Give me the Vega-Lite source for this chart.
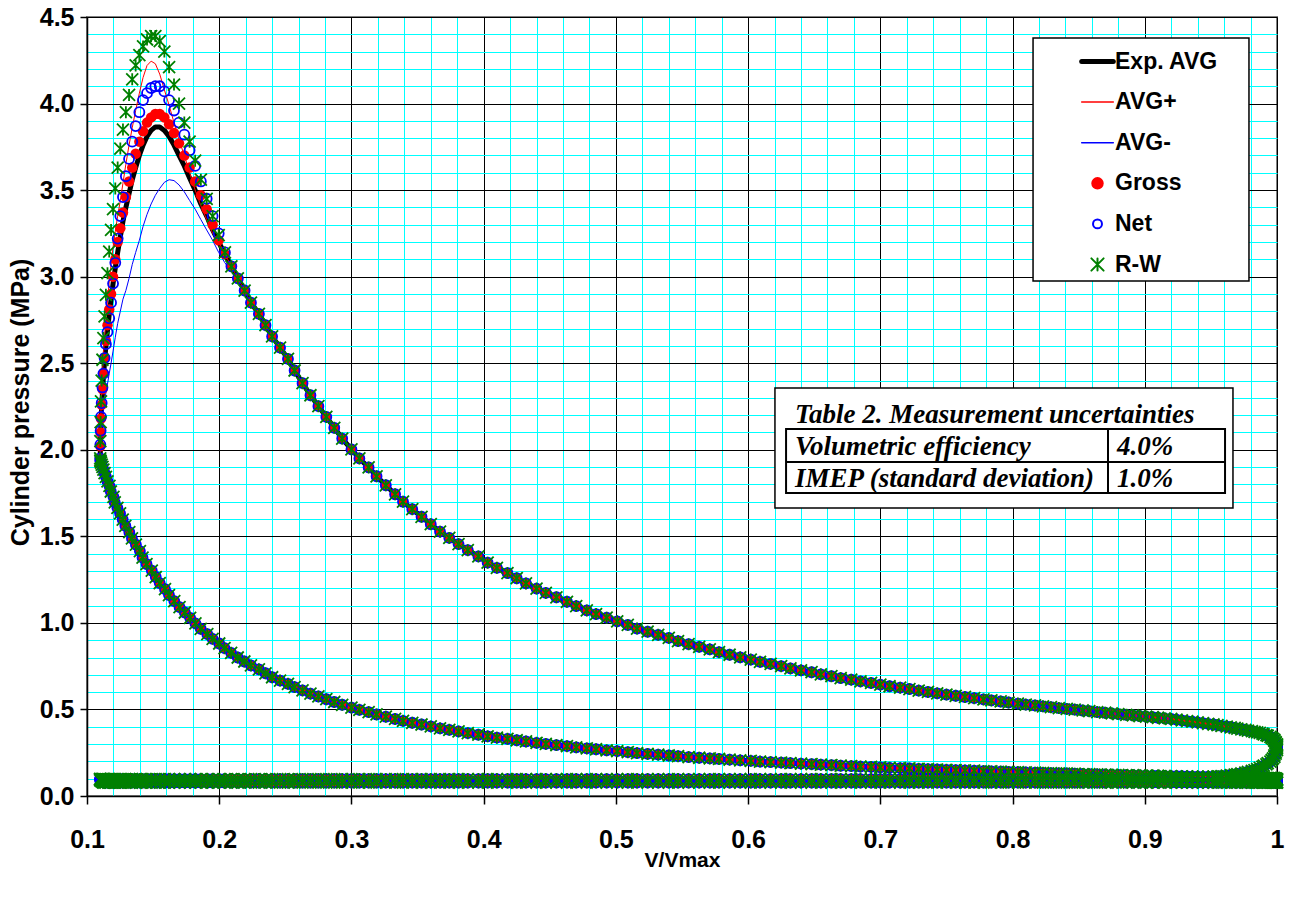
{
"$schema":"https://vega.github.io/schema/vega-lite/v6.json",
"width":1190,"height":779,
"autosize":{"type":"none"},
"padding":{"left":87,"top":17,"right":16,"bottom":102},
"background":"white",
"config":{"view":{"stroke":"#808080","strokeWidth":2}},
"datasets":{"cyc":[
{"t":0,"x":0.11,"a":1.95,"hp":1.95,"hm":1.95,"g":1.95,"n":1.95,"r":1.95},
{"t":1,"x":0.1101,"a":2.02,"hp":2.04,"hm":1.99,"g":2.02,"n":2.03,"r":2.05},
{"t":2,"x":0.1103,"a":2.09,"hp":2.14,"hm":2.03,"g":2.1,"n":2.11,"r":2.16},
{"t":3,"x":0.1106,"a":2.17,"hp":2.24,"hm":2.08,"g":2.18,"n":2.19,"r":2.28},
{"t":4,"x":0.1111,"a":2.25,"hp":2.34,"hm":2.13,"g":2.26,"n":2.27,"r":2.4},
{"t":5,"x":0.1117,"a":2.33,"hp":2.44,"hm":2.18,"g":2.35,"n":2.36,"r":2.52},
{"t":6,"x":0.1124,"a":2.42,"hp":2.55,"hm":2.23,"g":2.44,"n":2.44,"r":2.645},
{"t":7,"x":0.1133,"a":2.51,"hp":2.65,"hm":2.28,"g":2.53,"n":2.53,"r":2.77},
{"t":8,"x":0.1143,"a":2.6,"hp":2.76,"hm":2.33,"g":2.63,"n":2.61,"r":2.895},
{"t":9,"x":0.1155,"a":2.69,"hp":2.86,"hm":2.38,"g":2.72,"n":2.68,"r":3.02},
{"t":10,"x":0.1168,"a":2.78,"hp":2.97,"hm":2.44,"g":2.81,"n":2.76,"r":3.145},
{"t":11,"x":0.1182,"a":2.87,"hp":3.07,"hm":2.5,"g":2.9,"n":2.85,"r":3.27},
{"t":12,"x":0.1197,"a":2.96,"hp":3.17,"hm":2.57,"g":3.0,"n":2.96,"r":3.39},
{"t":13,"x":0.1214,"a":3.05,"hp":3.26,"hm":2.65,"g":3.1,"n":3.08,"r":3.51},
{"t":14,"x":0.1232,"a":3.14,"hp":3.35,"hm":2.73,"g":3.2,"n":3.22,"r":3.63},
{"t":15,"x":0.1252,"a":3.23,"hp":3.44,"hm":2.8,"g":3.28,"n":3.35,"r":3.74},
{"t":16,"x":0.1272,"a":3.32,"hp":3.54,"hm":2.87,"g":3.37,"n":3.46,"r":3.85},
{"t":17,"x":0.1294,"a":3.4,"hp":3.65,"hm":2.92,"g":3.46,"n":3.58,"r":3.95},
{"t":18,"x":0.1318,"a":3.48,"hp":3.76,"hm":2.99,"g":3.55,"n":3.68,"r":4.05},
{"t":19,"x":0.1342,"a":3.56,"hp":3.86,"hm":3.07,"g":3.63,"n":3.78,"r":4.14},
{"t":20,"x":0.1368,"a":3.63,"hp":3.96,"hm":3.14,"g":3.71,"n":3.87,"r":4.22},
{"t":21,"x":0.1396,"a":3.7,"hp":4.06,"hm":3.21,"g":3.78,"n":3.95,"r":4.28},
{"t":22,"x":0.1424,"a":3.76,"hp":4.15,"hm":3.29,"g":3.84,"n":4.02,"r":4.33},
{"t":23,"x":0.1454,"a":3.81,"hp":4.22,"hm":3.36,"g":3.89,"n":4.06,"r":4.37},
{"t":24,"x":0.1485,"a":3.845,"hp":4.245,"hm":3.42,"g":3.92,"n":4.09,"r":4.39},
{"t":25,"x":0.1517,"a":3.865,"hp":4.23,"hm":3.47,"g":3.94,"n":4.1,"r":4.39},
{"t":26,"x":0.155,"a":3.865,"hp":4.17,"hm":3.51,"g":3.94,"n":4.1,"r":4.36},
{"t":27,"x":0.1585,"a":3.845,"hp":4.08,"hm":3.545,"g":3.92,"n":4.07,"r":4.3},
{"t":28,"x":0.1621,"a":3.81,"hp":3.99,"hm":3.56,"g":3.88,"n":4.02,"r":4.21},
{"t":29,"x":0.1658,"a":3.76,"hp":3.89,"hm":3.555,"g":3.83,"n":3.96,"r":4.11},
{"t":30,"x":0.1696,"a":3.7,"hp":3.79,"hm":3.53,"g":3.77,"n":3.89,"r":4.0},
{"t":31,"x":0.1736,"a":3.64,"hp":3.7,"hm":3.49,"g":3.7,"n":3.82,"r":3.89},
{"t":32,"x":0.1776,"a":3.57,"hp":3.6,"hm":3.44,"g":3.63,"n":3.73,"r":3.78},
{"t":33,"x":0.1818,"a":3.5,"hp":3.5,"hm":3.39,"g":3.55,"n":3.64,"r":3.67},
{"t":34,"x":0.1861,"a":3.42,"hp":3.41,"hm":3.33,"g":3.47,"n":3.55,"r":3.56},
{"t":35,"x":0.1905,"a":3.35,"hp":3.33,"hm":3.27,"g":3.39,"n":3.45,"r":3.45},
{"t":36,"x":0.195,"a":3.27,"hp":3.25,"hm":3.21,"g":3.3,"n":3.35,"r":3.35},
{"t":37,"x":0.1996,"a":3.2,"hp":3.2,"hm":3.14,"g":3.21,"n":3.25,"r":3.24},
{"t":38,"x":0.2043,"a":3.13,"hp":3.13,"hm":3.08,"g":3.13,"n":3.14,"r":3.14},
{"t":39,"x":0.2092,"a":3.06,"hp":3.06,"hm":3.03,"g":3.06,"n":3.06,"r":3.06},
{"t":40,"x":0.2141,"a":2.99,"hp":2.99,"hm":2.97,"g":2.99,"n":2.99,"r":2.99},
{"t":41,"x":0.2192,"a":2.92,"hp":2.92,"hm":2.91,"g":2.92,"n":2.92,"r":2.92},
{"t":42,"x":0.224,"p":2.85},{"t":43,"x":0.23,"p":2.785},{"t":44,"x":0.235,"p":2.72},{"t":45,"x":0.24,"p":2.655},{"t":46,"x":0.246,"p":2.59},
{"t":47,"x":0.252,"p":2.525},{"t":48,"x":0.257,"p":2.458},{"t":49,"x":0.263,"p":2.385},{"t":50,"x":0.269,"p":2.315},{"t":51,"x":0.275,"p":2.252},
{"t":52,"x":0.281,"p":2.19},{"t":53,"x":0.287,"p":2.127},{"t":54,"x":0.293,"p":2.065},{"t":55,"x":0.3,"p":2.002},{"t":56,"x":0.306,"p":1.95},
{"t":57,"x":0.313,"p":1.898},{"t":58,"x":0.319,"p":1.847},{"t":59,"x":0.326,"p":1.795},{"t":60,"x":0.333,"p":1.743},{"t":61,"x":0.339,"p":1.7},
{"t":62,"x":0.346,"p":1.657},{"t":63,"x":0.353,"p":1.613},{"t":64,"x":0.36,"p":1.57},{"t":65,"x":0.367,"p":1.527},{"t":66,"x":0.374,"p":1.491},
{"t":67,"x":0.381,"p":1.455},{"t":68,"x":0.388,"p":1.42},{"t":69,"x":0.396,"p":1.384},{"t":70,"x":0.403,"p":1.348},{"t":71,"x":0.41,"p":1.318},
{"t":72,"x":0.418,"p":1.288},{"t":73,"x":0.425,"p":1.258},{"t":74,"x":0.432,"p":1.228},{"t":75,"x":0.44,"p":1.198},{"t":76,"x":0.447,"p":1.173},
{"t":77,"x":0.455,"p":1.148},{"t":78,"x":0.463,"p":1.122},{"t":79,"x":0.47,"p":1.097},{"t":80,"x":0.478,"p":1.072},{"t":81,"x":0.485,"p":1.051},
{"t":82,"x":0.493,"p":1.03},{"t":83,"x":0.501,"p":1.009},{"t":84,"x":0.509,"p":0.988},{"t":85,"x":0.516,"p":0.967},{"t":86,"x":0.524,"p":0.949},
{"t":87,"x":0.532,"p":0.931},{"t":88,"x":0.54,"p":0.913},{"t":89,"x":0.547,"p":0.895},{"t":90,"x":0.555,"p":0.877},{"t":91,"x":0.563,"p":0.862},
{"t":92,"x":0.571,"p":0.847},{"t":93,"x":0.578,"p":0.831},{"t":94,"x":0.586,"p":0.816},{"t":95,"x":0.594,"p":0.801},{"t":96,"x":0.602,"p":0.788},
{"t":97,"x":0.609,"p":0.775},{"t":98,"x":0.617,"p":0.763},{"t":99,"x":0.625,"p":0.75},{"t":100,"x":0.632,"p":0.737},{"t":101,"x":0.64,"p":0.726},
{"t":102,"x":0.648,"p":0.715},{"t":103,"x":0.655,"p":0.703},{"t":104,"x":0.663,"p":0.692},{"t":105,"x":0.67,"p":0.681},{"t":106,"x":0.678,"p":0.672},
{"t":107,"x":0.685,"p":0.662},{"t":108,"x":0.693,"p":0.653},{"t":109,"x":0.7,"p":0.643},{"t":110,"x":0.707,"p":0.634},{"t":111,"x":0.715,"p":0.626},
{"t":112,"x":0.722,"p":0.618},{"t":113,"x":0.729,"p":0.609},{"t":114,"x":0.736,"p":0.601},{"t":115,"x":0.743,"p":0.593},{"t":116,"x":0.75,"p":0.586},
{"t":117,"x":0.757,"p":0.579},{"t":118,"x":0.764,"p":0.572},{"t":119,"x":0.771,"p":0.565},{"t":120,"x":0.778,"p":0.558},{"t":121,"x":0.784,"p":0.552},
{"t":122,"x":0.791,"p":0.546},{"t":123,"x":0.797,"p":0.54},{"t":124,"x":0.804,"p":0.534},{"t":125,"x":0.81,"p":0.528},{"t":126,"x":0.817,"p":0.523},
{"t":127,"x":0.823,"p":0.518},{"t":128,"x":0.829,"p":0.513},{"t":129,"x":0.835,"p":0.508},{"t":130,"x":0.841,"p":0.503},{"t":131,"x":0.847,"p":0.499},
{"t":132,"x":0.853,"p":0.494},{"t":133,"x":0.858,"p":0.49},{"t":134,"x":0.864,"p":0.485},{"t":135,"x":0.87,"p":0.481},{"t":136,"x":0.875,"p":0.477},
{"t":137,"x":0.88,"p":0.473},{"t":138,"x":0.886,"p":0.469},{"t":139,"x":0.891,"p":0.466},{"t":140,"x":0.896,"p":0.462},{"t":141,"x":0.901,"p":0.459},
{"t":142,"x":0.906,"p":0.455},{"t":143,"x":0.91,"p":0.452},{"t":144,"x":0.915,"p":0.448},{"t":145,"x":0.92,"p":0.445},{"t":146,"x":0.924,"p":0.441},
{"t":147,"x":0.928,"p":0.437},{"t":148,"x":0.932,"p":0.433},{"t":149,"x":0.936,"p":0.429},{"t":150,"x":0.94,"p":0.425},{"t":151,"x":0.944,"p":0.421},
{"t":152,"x":0.948,"p":0.417},{"t":153,"x":0.952,"p":0.413},{"t":154,"x":0.955,"p":0.409},{"t":155,"x":0.958,"p":0.405},{"t":156,"x":0.962,"p":0.401},
{"t":157,"x":0.965,"p":0.397},{"t":158,"x":0.968,"p":0.393},{"t":159,"x":0.97,"p":0.389},{"t":160,"x":0.973,"p":0.385},{"t":161,"x":0.976,"p":0.382},
{"t":162,"x":0.978,"p":0.378},{"t":163,"x":0.981,"p":0.375},{"t":164,"x":0.983,"p":0.371},{"t":165,"x":0.985,"p":0.368},{"t":166,"x":0.987,"p":0.364},
{"t":167,"x":0.989,"p":0.36},{"t":168,"x":0.99,"p":0.356},{"t":169,"x":0.992,"p":0.352},{"t":170,"x":0.993,"p":0.348},{"t":171,"x":0.995,"p":0.342},
{"t":172,"x":0.996,"p":0.336},{"t":173,"x":0.997,"p":0.33},{"t":174,"x":0.998,"p":0.324},{"t":175,"x":0.998,"p":0.318},{"t":176,"x":0.999,"p":0.311},
{"t":177,"x":0.999,"p":0.305},{"t":178,"x":1,"p":0.298},{"t":179,"x":1,"p":0.292},{"t":180,"x":1,"p":0.285},
{"t":181,"x":1,"p":0.275},{"t":182,"x":1,"p":0.265},{"t":183,"x":0.999,"p":0.255},{"t":184,"x":0.999,"p":0.245},{"t":185,"x":0.998,"p":0.235},
{"t":186,"x":0.998,"p":0.226},{"t":187,"x":0.997,"p":0.217},{"t":188,"x":0.996,"p":0.208},{"t":189,"x":0.995,"p":0.199},{"t":190,"x":0.993,"p":0.19},
{"t":191,"x":0.992,"p":0.183},{"t":192,"x":0.99,"p":0.176},{"t":193,"x":0.989,"p":0.169},{"t":194,"x":0.987,"p":0.162},{"t":195,"x":0.985,"p":0.155},
{"t":196,"x":0.983,"p":0.15},{"t":197,"x":0.981,"p":0.145},{"t":198,"x":0.978,"p":0.14},{"t":199,"x":0.976,"p":0.135},{"t":200,"x":0.973,"p":0.13},
{"t":201,"x":0.97,"p":0.127},{"t":202,"x":0.968,"p":0.124},{"t":203,"x":0.965,"p":0.121},{"t":204,"x":0.962,"p":0.118},{"t":205,"x":0.958,"p":0.115},
{"t":206,"x":0.955,"p":0.113},{"t":207,"x":0.952,"p":0.112},{"t":208,"x":0.948,"p":0.11},{"t":209,"x":0.944,"p":0.109},{"t":210,"x":0.94,"p":0.107},
{"t":211,"x":0.936,"p":0.106},{"t":212,"x":0.932,"p":0.105},{"t":213,"x":0.928,"p":0.104},{"t":214,"x":0.924,"p":0.103},{"t":215,"x":0.92,"p":0.102},
{"t":216,"x":0.915,"p":0.101},{"t":217,"x":0.91,"p":0.1},{"t":218,"x":0.906,"p":0.099},{"t":219,"x":0.901,"p":0.099},{"t":220,"x":0.896,"p":0.098},
{"t":221,"x":0.891,"p":0.098},{"t":222,"x":0.886,"p":0.098},{"t":223,"x":0.88,"p":0.098},{"t":224,"x":0.875,"p":0.098},{"t":225,"x":0.87,"p":0.098},
{"t":226,"x":0.864,"p":0.098},{"t":227,"x":0.858,"p":0.098},{"t":228,"x":0.853,"p":0.098},{"t":229,"x":0.847,"p":0.098},{"t":230,"x":0.841,"p":0.098},
{"t":231,"x":0.835,"p":0.098},{"t":232,"x":0.829,"p":0.098},{"t":233,"x":0.823,"p":0.098},{"t":234,"x":0.817,"p":0.098},{"t":235,"x":0.81,"p":0.098},
{"t":236,"x":0.804,"p":0.098},{"t":237,"x":0.797,"p":0.098},{"t":238,"x":0.791,"p":0.098},{"t":239,"x":0.784,"p":0.098},{"t":240,"x":0.778,"p":0.098},
{"t":241,"x":0.771,"p":0.098},{"t":242,"x":0.764,"p":0.098},{"t":243,"x":0.757,"p":0.098},{"t":244,"x":0.75,"p":0.098},{"t":245,"x":0.743,"p":0.098},
{"t":246,"x":0.736,"p":0.098},{"t":247,"x":0.729,"p":0.098},{"t":248,"x":0.722,"p":0.098},{"t":249,"x":0.715,"p":0.098},{"t":250,"x":0.707,"p":0.098},
{"t":251,"x":0.7,"p":0.098},{"t":252,"x":0.693,"p":0.098},{"t":253,"x":0.685,"p":0.098},{"t":254,"x":0.678,"p":0.098},{"t":255,"x":0.67,"p":0.098},
{"t":256,"x":0.663,"p":0.098},{"t":257,"x":0.655,"p":0.098},{"t":258,"x":0.648,"p":0.098},{"t":259,"x":0.64,"p":0.098},{"t":260,"x":0.632,"p":0.098},
{"t":261,"x":0.625,"p":0.098},{"t":262,"x":0.617,"p":0.098},{"t":263,"x":0.609,"p":0.098},{"t":264,"x":0.602,"p":0.098},{"t":265,"x":0.594,"p":0.098},
{"t":266,"x":0.586,"p":0.098},{"t":267,"x":0.578,"p":0.098},{"t":268,"x":0.571,"p":0.098},{"t":269,"x":0.563,"p":0.098},{"t":270,"x":0.555,"p":0.098},
{"t":271,"x":0.547,"p":0.098},{"t":272,"x":0.54,"p":0.098},{"t":273,"x":0.532,"p":0.098},{"t":274,"x":0.524,"p":0.098},{"t":275,"x":0.516,"p":0.098},
{"t":276,"x":0.509,"p":0.098},{"t":277,"x":0.501,"p":0.098},{"t":278,"x":0.493,"p":0.098},{"t":279,"x":0.485,"p":0.098},{"t":280,"x":0.478,"p":0.098},
{"t":281,"x":0.47,"p":0.098},{"t":282,"x":0.463,"p":0.098},{"t":283,"x":0.455,"p":0.098},{"t":284,"x":0.447,"p":0.098},{"t":285,"x":0.44,"p":0.098},
{"t":286,"x":0.432,"p":0.098},{"t":287,"x":0.425,"p":0.098},{"t":288,"x":0.418,"p":0.098},{"t":289,"x":0.41,"p":0.098},{"t":290,"x":0.403,"p":0.098},
{"t":291,"x":0.396,"p":0.098},{"t":292,"x":0.388,"p":0.098},{"t":293,"x":0.381,"p":0.098},{"t":294,"x":0.374,"p":0.098},{"t":295,"x":0.367,"p":0.098},
{"t":296,"x":0.36,"p":0.098},{"t":297,"x":0.353,"p":0.098},{"t":298,"x":0.346,"p":0.098},{"t":299,"x":0.339,"p":0.098},{"t":300,"x":0.333,"p":0.098},
{"t":301,"x":0.326,"p":0.098},{"t":302,"x":0.319,"p":0.098},{"t":303,"x":0.313,"p":0.098},{"t":304,"x":0.306,"p":0.098},{"t":305,"x":0.3,"p":0.098},
{"t":306,"x":0.293,"p":0.098},{"t":307,"x":0.287,"p":0.098},{"t":308,"x":0.281,"p":0.098},{"t":309,"x":0.275,"p":0.098},{"t":310,"x":0.269,"p":0.098},
{"t":311,"x":0.263,"p":0.098},{"t":312,"x":0.257,"p":0.098},{"t":313,"x":0.252,"p":0.098},{"t":314,"x":0.246,"p":0.098},{"t":315,"x":0.24,"p":0.098},
{"t":316,"x":0.235,"p":0.098},{"t":317,"x":0.23,"p":0.098},{"t":318,"x":0.224,"p":0.098},{"t":319,"x":0.219,"p":0.098},{"t":320,"x":0.214,"p":0.098},
{"t":321,"x":0.209,"p":0.098},{"t":322,"x":0.204,"p":0.098},{"t":323,"x":0.2,"p":0.098},{"t":324,"x":0.195,"p":0.098},{"t":325,"x":0.191,"p":0.098},
{"t":326,"x":0.186,"p":0.098},{"t":327,"x":0.182,"p":0.098},{"t":328,"x":0.178,"p":0.098},{"t":329,"x":0.174,"p":0.098},{"t":330,"x":0.17,"p":0.098},
{"t":331,"x":0.166,"p":0.098},{"t":332,"x":0.162,"p":0.098},{"t":333,"x":0.159,"p":0.098},{"t":334,"x":0.155,"p":0.098},{"t":335,"x":0.152,"p":0.098},
{"t":336,"x":0.149,"p":0.098},{"t":337,"x":0.145,"p":0.098},{"t":338,"x":0.142,"p":0.098},{"t":339,"x":0.14,"p":0.098},{"t":340,"x":0.137,"p":0.098},
{"t":341,"x":0.134,"p":0.098},{"t":342,"x":0.132,"p":0.098},{"t":343,"x":0.129,"p":0.098},{"t":344,"x":0.127,"p":0.098},{"t":345,"x":0.125,"p":0.098},
{"t":346,"x":0.123,"p":0.098},{"t":347,"x":0.121,"p":0.098},{"t":348,"x":0.12,"p":0.098},{"t":349,"x":0.118,"p":0.098},{"t":350,"x":0.117,"p":0.098},
{"t":351,"x":0.116,"p":0.098},{"t":352,"x":0.114,"p":0.098},{"t":353,"x":0.113,"p":0.098},{"t":354,"x":0.112,"p":0.098},{"t":355,"x":0.112,"p":0.098},
{"t":356,"x":0.111,"p":0.098},{"t":357,"x":0.111,"p":0.098},{"t":358,"x":0.11,"p":0.098},{"t":359,"x":0.11,"p":0.098},{"t":360,"x":0.11,"p":0.098},
{"t":361,"x":0.11,"p":0.094},{"t":362,"x":0.11,"p":0.09},{"t":363,"x":0.111,"p":0.087},{"t":364,"x":0.111,"p":0.084},{"t":365,"x":0.112,"p":0.081},
{"t":366,"x":0.112,"p":0.079},{"t":367,"x":0.113,"p":0.078},{"t":368,"x":0.114,"p":0.078},{"t":369,"x":0.116,"p":0.078},{"t":370,"x":0.117,"p":0.078},
{"t":371,"x":0.118,"p":0.078},{"t":372,"x":0.12,"p":0.078},{"t":373,"x":0.121,"p":0.078},{"t":374,"x":0.123,"p":0.078},{"t":375,"x":0.125,"p":0.078},
{"t":376,"x":0.127,"p":0.078},{"t":377,"x":0.129,"p":0.078},{"t":378,"x":0.132,"p":0.078},{"t":379,"x":0.134,"p":0.078},{"t":380,"x":0.137,"p":0.078},
{"t":381,"x":0.14,"p":0.078},{"t":382,"x":0.142,"p":0.078},{"t":383,"x":0.145,"p":0.078},{"t":384,"x":0.149,"p":0.078},{"t":385,"x":0.152,"p":0.078},
{"t":386,"x":0.155,"p":0.078},{"t":387,"x":0.159,"p":0.078},{"t":388,"x":0.162,"p":0.078},{"t":389,"x":0.166,"p":0.078},{"t":390,"x":0.17,"p":0.078},
{"t":391,"x":0.174,"p":0.078},{"t":392,"x":0.178,"p":0.078},{"t":393,"x":0.182,"p":0.078},{"t":394,"x":0.186,"p":0.078},{"t":395,"x":0.191,"p":0.078},
{"t":396,"x":0.195,"p":0.078},{"t":397,"x":0.2,"p":0.078},{"t":398,"x":0.204,"p":0.078},{"t":399,"x":0.209,"p":0.078},{"t":400,"x":0.214,"p":0.078},
{"t":401,"x":0.219,"p":0.078},{"t":402,"x":0.224,"p":0.078},{"t":403,"x":0.23,"p":0.078},{"t":404,"x":0.235,"p":0.078},{"t":405,"x":0.24,"p":0.078},
{"t":406,"x":0.246,"p":0.078},{"t":407,"x":0.252,"p":0.078},{"t":408,"x":0.257,"p":0.078},{"t":409,"x":0.263,"p":0.078},{"t":410,"x":0.269,"p":0.078},
{"t":411,"x":0.275,"p":0.078},{"t":412,"x":0.281,"p":0.078},{"t":413,"x":0.287,"p":0.078},{"t":414,"x":0.293,"p":0.078},{"t":415,"x":0.3,"p":0.078},
{"t":416,"x":0.306,"p":0.078},{"t":417,"x":0.313,"p":0.078},{"t":418,"x":0.319,"p":0.078},{"t":419,"x":0.326,"p":0.078},{"t":420,"x":0.333,"p":0.078},
{"t":421,"x":0.339,"p":0.078},{"t":422,"x":0.346,"p":0.078},{"t":423,"x":0.353,"p":0.078},{"t":424,"x":0.36,"p":0.078},{"t":425,"x":0.367,"p":0.078},
{"t":426,"x":0.374,"p":0.078},{"t":427,"x":0.381,"p":0.078},{"t":428,"x":0.388,"p":0.078},{"t":429,"x":0.396,"p":0.078},{"t":430,"x":0.403,"p":0.078},
{"t":431,"x":0.41,"p":0.078},{"t":432,"x":0.418,"p":0.078},{"t":433,"x":0.425,"p":0.078},{"t":434,"x":0.432,"p":0.078},{"t":435,"x":0.44,"p":0.078},
{"t":436,"x":0.447,"p":0.078},{"t":437,"x":0.455,"p":0.078},{"t":438,"x":0.463,"p":0.078},{"t":439,"x":0.47,"p":0.078},{"t":440,"x":0.478,"p":0.078},
{"t":441,"x":0.485,"p":0.078},{"t":442,"x":0.493,"p":0.078},{"t":443,"x":0.501,"p":0.078},{"t":444,"x":0.509,"p":0.078},{"t":445,"x":0.516,"p":0.078},
{"t":446,"x":0.524,"p":0.078},{"t":447,"x":0.532,"p":0.078},{"t":448,"x":0.54,"p":0.078},{"t":449,"x":0.547,"p":0.078},{"t":450,"x":0.555,"p":0.078},
{"t":451,"x":0.563,"p":0.078},{"t":452,"x":0.571,"p":0.078},{"t":453,"x":0.578,"p":0.078},{"t":454,"x":0.586,"p":0.078},{"t":455,"x":0.594,"p":0.078},
{"t":456,"x":0.602,"p":0.078},{"t":457,"x":0.609,"p":0.078},{"t":458,"x":0.617,"p":0.078},{"t":459,"x":0.625,"p":0.078},{"t":460,"x":0.632,"p":0.078},
{"t":461,"x":0.64,"p":0.078},{"t":462,"x":0.648,"p":0.078},{"t":463,"x":0.655,"p":0.078},{"t":464,"x":0.663,"p":0.078},{"t":465,"x":0.67,"p":0.078},
{"t":466,"x":0.678,"p":0.078},{"t":467,"x":0.685,"p":0.078},{"t":468,"x":0.693,"p":0.078},{"t":469,"x":0.7,"p":0.078},{"t":470,"x":0.707,"p":0.078},
{"t":471,"x":0.715,"p":0.078},{"t":472,"x":0.722,"p":0.078},{"t":473,"x":0.729,"p":0.078},{"t":474,"x":0.736,"p":0.078},{"t":475,"x":0.743,"p":0.078},
{"t":476,"x":0.75,"p":0.078},{"t":477,"x":0.757,"p":0.078},{"t":478,"x":0.764,"p":0.078},{"t":479,"x":0.771,"p":0.078},{"t":480,"x":0.778,"p":0.078},
{"t":481,"x":0.784,"p":0.078},{"t":482,"x":0.791,"p":0.078},{"t":483,"x":0.797,"p":0.078},{"t":484,"x":0.804,"p":0.078},{"t":485,"x":0.81,"p":0.078},
{"t":486,"x":0.817,"p":0.078},{"t":487,"x":0.823,"p":0.078},{"t":488,"x":0.829,"p":0.078},{"t":489,"x":0.835,"p":0.078},{"t":490,"x":0.841,"p":0.078},
{"t":491,"x":0.847,"p":0.078},{"t":492,"x":0.853,"p":0.078},{"t":493,"x":0.858,"p":0.078},{"t":494,"x":0.864,"p":0.078},{"t":495,"x":0.87,"p":0.078},
{"t":496,"x":0.875,"p":0.078},{"t":497,"x":0.88,"p":0.078},{"t":498,"x":0.886,"p":0.078},{"t":499,"x":0.891,"p":0.078},{"t":500,"x":0.896,"p":0.078},
{"t":501,"x":0.901,"p":0.078},{"t":502,"x":0.906,"p":0.078},{"t":503,"x":0.91,"p":0.078},{"t":504,"x":0.915,"p":0.078},{"t":505,"x":0.92,"p":0.078},
{"t":506,"x":0.924,"p":0.078},{"t":507,"x":0.928,"p":0.078},{"t":508,"x":0.932,"p":0.078},{"t":509,"x":0.936,"p":0.078},{"t":510,"x":0.94,"p":0.078},
{"t":511,"x":0.944,"p":0.078},{"t":512,"x":0.948,"p":0.078},{"t":513,"x":0.952,"p":0.078},{"t":514,"x":0.955,"p":0.078},{"t":515,"x":0.958,"p":0.078},
{"t":516,"x":0.962,"p":0.078},{"t":517,"x":0.965,"p":0.078},{"t":518,"x":0.968,"p":0.078},{"t":519,"x":0.97,"p":0.078},{"t":520,"x":0.973,"p":0.078},
{"t":521,"x":0.976,"p":0.078},{"t":522,"x":0.978,"p":0.078},{"t":523,"x":0.981,"p":0.078},{"t":524,"x":0.983,"p":0.078},{"t":525,"x":0.985,"p":0.078},
{"t":526,"x":0.987,"p":0.078},{"t":527,"x":0.989,"p":0.078},{"t":528,"x":0.99,"p":0.078},{"t":529,"x":0.992,"p":0.078},{"t":530,"x":0.993,"p":0.078},
{"t":531,"x":0.995,"p":0.078},{"t":532,"x":0.996,"p":0.078},{"t":533,"x":0.997,"p":0.078},{"t":534,"x":0.998,"p":0.078},{"t":535,"x":0.998,"p":0.078},
{"t":536,"x":0.999,"p":0.078},{"t":537,"x":0.999,"p":0.078},{"t":538,"x":1,"p":0.078},{"t":539,"x":1,"p":0.078},
{"t":540,"x":1,"p":0.09},{"t":541,"x":1,"p":0.094},{"t":542,"x":1,"p":0.097},{"t":543,"x":0.999,"p":0.1},{"t":544,"x":0.999,"p":0.102},
{"t":545,"x":0.998,"p":0.103},{"t":546,"x":0.998,"p":0.103},{"t":547,"x":0.997,"p":0.103},{"t":548,"x":0.996,"p":0.104},{"t":549,"x":0.995,"p":0.104},
{"t":550,"x":0.993,"p":0.104},{"t":551,"x":0.992,"p":0.104},{"t":552,"x":0.99,"p":0.104},{"t":553,"x":0.989,"p":0.105},{"t":554,"x":0.987,"p":0.105},
{"t":555,"x":0.985,"p":0.105},{"t":556,"x":0.983,"p":0.105},{"t":557,"x":0.981,"p":0.106},{"t":558,"x":0.978,"p":0.106},{"t":559,"x":0.976,"p":0.107},
{"t":560,"x":0.973,"p":0.107},{"t":561,"x":0.97,"p":0.107},{"t":562,"x":0.968,"p":0.108},{"t":563,"x":0.965,"p":0.108},{"t":564,"x":0.962,"p":0.109},
{"t":565,"x":0.958,"p":0.109},{"t":566,"x":0.955,"p":0.11},{"t":567,"x":0.952,"p":0.11},{"t":568,"x":0.948,"p":0.111},{"t":569,"x":0.944,"p":0.111},
{"t":570,"x":0.94,"p":0.112},{"t":571,"x":0.936,"p":0.112},{"t":572,"x":0.932,"p":0.113},{"t":573,"x":0.928,"p":0.114},{"t":574,"x":0.924,"p":0.114},
{"t":575,"x":0.92,"p":0.115},{"t":576,"x":0.915,"p":0.116},{"t":577,"x":0.91,"p":0.117},{"t":578,"x":0.906,"p":0.117},{"t":579,"x":0.901,"p":0.118},
{"t":580,"x":0.896,"p":0.119},{"t":581,"x":0.891,"p":0.12},{"t":582,"x":0.886,"p":0.121},{"t":583,"x":0.88,"p":0.122},{"t":584,"x":0.875,"p":0.123},
{"t":585,"x":0.87,"p":0.124},{"t":586,"x":0.864,"p":0.125},{"t":587,"x":0.858,"p":0.126},{"t":588,"x":0.853,"p":0.127},{"t":589,"x":0.847,"p":0.129},
{"t":590,"x":0.841,"p":0.13},{"t":591,"x":0.835,"p":0.131},{"t":592,"x":0.829,"p":0.132},{"t":593,"x":0.823,"p":0.134},{"t":594,"x":0.817,"p":0.135},
{"t":595,"x":0.81,"p":0.136},{"t":596,"x":0.804,"p":0.138},{"t":597,"x":0.797,"p":0.139},{"t":598,"x":0.791,"p":0.141},{"t":599,"x":0.784,"p":0.142},
{"t":600,"x":0.778,"p":0.144},{"t":601,"x":0.771,"p":0.146},{"t":602,"x":0.764,"p":0.148},{"t":603,"x":0.757,"p":0.149},{"t":604,"x":0.75,"p":0.151},
{"t":605,"x":0.743,"p":0.153},{"t":606,"x":0.736,"p":0.155},{"t":607,"x":0.729,"p":0.157},{"t":608,"x":0.722,"p":0.159},{"t":609,"x":0.715,"p":0.161},
{"t":610,"x":0.707,"p":0.163},{"t":611,"x":0.7,"p":0.165},{"t":612,"x":0.693,"p":0.168},{"t":613,"x":0.685,"p":0.17},{"t":614,"x":0.678,"p":0.173},
{"t":615,"x":0.67,"p":0.175},{"t":616,"x":0.663,"p":0.178},{"t":617,"x":0.655,"p":0.181},{"t":618,"x":0.648,"p":0.184},{"t":619,"x":0.64,"p":0.187},
{"t":620,"x":0.632,"p":0.19},{"t":621,"x":0.625,"p":0.193},{"t":622,"x":0.617,"p":0.196},{"t":623,"x":0.609,"p":0.199},{"t":624,"x":0.602,"p":0.203},
{"t":625,"x":0.594,"p":0.206},{"t":626,"x":0.586,"p":0.21},{"t":627,"x":0.578,"p":0.214},{"t":628,"x":0.571,"p":0.217},{"t":629,"x":0.563,"p":0.221},
{"t":630,"x":0.555,"p":0.225},{"t":631,"x":0.547,"p":0.23},{"t":632,"x":0.54,"p":0.234},{"t":633,"x":0.532,"p":0.239},{"t":634,"x":0.524,"p":0.243},
{"t":635,"x":0.516,"p":0.248},{"t":636,"x":0.509,"p":0.253},{"t":637,"x":0.501,"p":0.259},{"t":638,"x":0.493,"p":0.264},{"t":639,"x":0.485,"p":0.27},
{"t":640,"x":0.478,"p":0.275},{"t":641,"x":0.47,"p":0.281},{"t":642,"x":0.463,"p":0.288},{"t":643,"x":0.455,"p":0.294},{"t":644,"x":0.447,"p":0.301},
{"t":645,"x":0.44,"p":0.307},{"t":646,"x":0.432,"p":0.315},{"t":647,"x":0.425,"p":0.322},{"t":648,"x":0.418,"p":0.33},{"t":649,"x":0.41,"p":0.337},
{"t":650,"x":0.403,"p":0.345},{"t":651,"x":0.396,"p":0.354},{"t":652,"x":0.388,"p":0.363},{"t":653,"x":0.381,"p":0.373},{"t":654,"x":0.374,"p":0.382},
{"t":655,"x":0.367,"p":0.391},{"t":656,"x":0.36,"p":0.402},{"t":657,"x":0.353,"p":0.413},{"t":658,"x":0.346,"p":0.423},{"t":659,"x":0.339,"p":0.434},
{"t":660,"x":0.333,"p":0.445},{"t":661,"x":0.326,"p":0.458},{"t":662,"x":0.319,"p":0.471},{"t":663,"x":0.313,"p":0.485},{"t":664,"x":0.306,"p":0.498},
{"t":665,"x":0.3,"p":0.511},{"t":666,"x":0.293,"p":0.527},{"t":667,"x":0.287,"p":0.543},{"t":668,"x":0.281,"p":0.559},{"t":669,"x":0.275,"p":0.575},
{"t":670,"x":0.269,"p":0.591},{"t":671,"x":0.263,"p":0.61},{"t":672,"x":0.257,"p":0.629},{"t":673,"x":0.252,"p":0.648},{"t":674,"x":0.246,"p":0.667},
{"t":675,"x":0.24,"p":0.686},{"t":676,"x":0.235,"p":0.709},{"t":677,"x":0.23,"p":0.732},{"t":678,"x":0.224,"p":0.754},{"t":679,"x":0.219,"p":0.777},
{"t":680,"x":0.214,"p":0.8},{"t":681,"x":0.209,"p":0.827},{"t":682,"x":0.204,"p":0.854},{"t":683,"x":0.2,"p":0.881},{"t":684,"x":0.195,"p":0.908},
{"t":685,"x":0.191,"p":0.935},{"t":686,"x":0.186,"p":0.966},{"t":687,"x":0.182,"p":0.997},{"t":688,"x":0.178,"p":1.029},{"t":689,"x":0.174,"p":1.06},
{"t":690,"x":0.17,"p":1.091},{"t":691,"x":0.166,"p":1.126},{"t":692,"x":0.162,"p":1.161},{"t":693,"x":0.159,"p":1.195},{"t":694,"x":0.155,"p":1.23},
{"t":695,"x":0.152,"p":1.265},{"t":696,"x":0.149,"p":1.302},{"t":697,"x":0.145,"p":1.34},{"t":698,"x":0.142,"p":1.377},{"t":699,"x":0.14,"p":1.415},
{"t":700,"x":0.137,"p":1.452},{"t":701,"x":0.134,"p":1.488},{"t":702,"x":0.132,"p":1.524},{"t":703,"x":0.129,"p":1.561},{"t":704,"x":0.127,"p":1.597},
{"t":705,"x":0.125,"p":1.633},{"t":706,"x":0.123,"p":1.664},{"t":707,"x":0.121,"p":1.696},{"t":708,"x":0.12,"p":1.728},{"t":709,"x":0.118,"p":1.759},
{"t":710,"x":0.117,"p":1.791},{"t":711,"x":0.1155,"p":1.818},{"t":712,"x":0.1143,"p":1.844},{"t":713,"x":0.1133,"p":1.865},{"t":714,"x":0.1124,"p":1.885},
{"t":715,"x":0.1117,"p":1.901},{"t":716,"x":0.1111,"p":1.914},{"t":717,"x":0.1106,"p":1.926},{"t":718,"x":0.1103,"p":1.933},{"t":719,"x":0.1101,"p":1.938}
]},
"layer":[
{"data":{"name":"cyc"},
 "transform":[{"fold":["p","a"],"as":["k","v"]},{"filter":"isValid(datum.v)"}],
 "mark":{"type":"line","strokeWidth":5,"strokeCap":"round","strokeJoin":"round"},
 "encoding":{
  "x":{"field":"x","type":"quantitative","scale":{"domain":[0.1,1],"nice":false,"zero":false},
   "axis":{"title":"V/Vmax","tickCount":100,"values":[0.1,0.12,0.14,0.16,0.18,0.2,0.22,0.24,0.26,0.28,0.3,0.32,0.34,0.36,0.38,0.4,0.42,0.44,0.46,0.48,0.5,0.52,0.54,0.56,0.58,0.6,0.62,0.64,0.66,0.68,0.7,0.72,0.74,0.76,0.78,0.8,0.82,0.84,0.86,0.88,0.9,0.92,0.94,0.96,0.98,1],
    "grid":true,
    "gridColor":{"condition":{"test":"abs(datum.value*10-round(datum.value*10))<0.001","value":"#000000"},"value":"#00FFFF"},
    "gridWidth":1,
    "tickOpacity":{"condition":{"test":"abs(datum.value*10-round(datum.value*10))<0.001","value":1},"value":0},
    "tickSize":8,"tickWidth":1.5,"tickColor":"#000000",
    "domainColor":"#000000","domainWidth":1.5,
    "labelExpr":"abs(datum.value*10-round(datum.value*10))<0.001 ? (datum.value>0.999 ? '1' : format(datum.value,'.1f')) : ''",
    "labelFont":"Liberation Sans","labelFontSize":25,"labelFontWeight":"bold","labelColor":"#000000","labelPadding":23,"labelOverlap":false,"labelFlush":false,"labelBound":false,
    "titleFont":"Liberation Sans","titleFontSize":21,"titleFontWeight":"bold","titleColor":"#000000","titleBaseline":"alphabetic","titleY":70}},
  "y":{"field":"v","type":"quantitative","scale":{"domain":[0,4.5],"nice":false,"zero":false},
   "axis":{"title":"Cylinder pressure  (MPa)","tickCount":100,"values":[0,0.1,0.2,0.3,0.4,0.5,0.6,0.7,0.8,0.9,1,1.1,1.2,1.3,1.4,1.5,1.6,1.7,1.8,1.9,2,2.1,2.2,2.3,2.4,2.5,2.6,2.7,2.8,2.9,3,3.1,3.2,3.3,3.4,3.5,3.6,3.7,3.8,3.9,4,4.1,4.2,4.3,4.4,4.5],
    "grid":true,
    "gridColor":{"condition":{"test":"abs(datum.value*2-round(datum.value*2))<0.001","value":"#000000"},"value":"#00FFFF"},
    "gridWidth":1,
    "tickOpacity":{"condition":{"test":"abs(datum.value*2-round(datum.value*2))<0.001","value":1},"value":0},
    "tickSize":7,"tickWidth":1.5,"tickColor":"#000000",
    "domainColor":"#000000","domainWidth":1.5,
    "labelExpr":"abs(datum.value*2-round(datum.value*2))<0.001 ? format(datum.value,'.1f') : ''",
    "labelFont":"Liberation Sans","labelFontSize":25,"labelFontWeight":"bold","labelColor":"#000000","labelPadding":6,"labelOverlap":false,"labelFlush":false,"labelBound":false,
    "titleFont":"Liberation Sans","titleFontSize":25,"titleFontWeight":"bold","titleColor":"#000000","titleBaseline":"alphabetic","titleAlign":"center","titleAngle":270,"titleX":-59,"titleY":385}},
  "order":{"field":"t","type":"quantitative"},
  "color":{"datum":"Exp. AVG","type":"nominal",
   "scale":{"domain":["Exp. AVG","AVG+","AVG-","Gross","Net","R-W"],"range":["#000000","#FF0000","#0000FF","#FF0000","#0000FF","#008000"]},
   "legend":{"title":null,"orient":"none","legendX":999,"legendY":33,"padding":0,"offset":0,
    "labelFont":"Liberation Sans","labelFontSize":23,"labelFontWeight":"bold","labelColor":"#000000","labelOffset":6,
    "rowPadding":16.6,"symbolSize":1000,"symbolOpacity":1,"symbolStrokeWidth":2,
    "encode":{"symbols":{"update":{
     "shape":{"signal":"datum.value==='Gross'||datum.value==='Net'?'circle':(datum.value==='R-W'?'M-1,-1L1,1M1,-1L-1,1M0,-1L0,1':'stroke')"},
     "size":{"signal":"datum.value==='Gross'?110:(datum.value==='Net'?80:(datum.value==='R-W'?150:1000))"},
     "fill":{"signal":"datum.value==='Gross'?'#FF0000':'transparent'"},
     "fillOpacity":{"signal":"datum.value==='Gross'?1:0"},
     "stroke":{"signal":"datum.value==='Exp. AVG'?'#000000':(datum.value==='AVG+'?'#FF5050':(datum.value==='AVG-'?'#0000FF':(datum.value==='Gross'?'transparent':(datum.value==='Net'?'#0000FF':'#008000'))))"},
     "strokeWidth":{"signal":"datum.value==='Exp. AVG'?5:(datum.value==='AVG+'||datum.value==='AVG-'?1.5:2)"},
     "strokeCap":{"value":"round"},
     "opacity":{"value":1}}}}}}
 }},
{"data":{"name":"cyc"},
 "transform":[{"fold":["p","hp"],"as":["k","v"]},{"filter":"isValid(datum.v)"}],
 "mark":{"type":"line","strokeWidth":1},
 "encoding":{"x":{"field":"x","type":"quantitative"},"y":{"field":"v","type":"quantitative"},"order":{"field":"t","type":"quantitative"},"color":{"datum":"AVG+","type":"nominal"}}},
{"data":{"name":"cyc"},
 "transform":[{"fold":["p","hm"],"as":["k","v"]},{"filter":"isValid(datum.v)"}],
 "mark":{"type":"line","strokeWidth":1},
 "encoding":{"x":{"field":"x","type":"quantitative"},"y":{"field":"v","type":"quantitative"},"order":{"field":"t","type":"quantitative"},"color":{"datum":"AVG-","type":"nominal"}}},
{"data":{"name":"cyc"},
 "transform":[{"fold":["p","g"],"as":["k","v"]},{"filter":"isValid(datum.v)"}],
 "mark":{"type":"point","shape":"circle","filled":true,"size":110,"opacity":1,"strokeWidth":0},
 "encoding":{"x":{"field":"x","type":"quantitative"},"y":{"field":"v","type":"quantitative"},"color":{"datum":"Gross","type":"nominal"}}},
{"data":{"name":"cyc"},
 "transform":[{"fold":["p","n"],"as":["k","v"]},{"filter":"isValid(datum.v)"}],
 "mark":{"type":"point","shape":"circle","filled":false,"size":100,"opacity":1,"strokeWidth":1.8},
 "encoding":{"x":{"field":"x","type":"quantitative"},"y":{"field":"v","type":"quantitative"},"color":{"datum":"Net","type":"nominal"}}},
{"data":{"name":"cyc"},
 "transform":[{"fold":["p","r"],"as":["k","v"]},{"filter":"isValid(datum.v)"}],
 "mark":{"type":"point","shape":"M-1,-1L1,1M1,-1L-1,1M0,-1L0,1","filled":false,"size":144,"opacity":1,"strokeWidth":1.8},
 "encoding":{"x":{"field":"x","type":"quantitative"},"y":{"field":"v","type":"quantitative"},"color":{"datum":"R-W","type":"nominal"}}},
{"data":{"values":[{}]},"mark":{"type":"rect","fill":"#FFFFFF","stroke":"#000000","strokeWidth":1.5},
 "encoding":{"x":{"datum":0.8155},"x2":{"datum":0.9788},"y":{"datum":4.379},"y2":{"datum":2.975}}},
{"data":{"values":[{}]},"mark":{"type":"rect","fill":"#FFFFFF","stroke":"#000000","strokeWidth":1.5},
 "encoding":{"x":{"datum":0.6203},"x2":{"datum":0.9667},"y":{"datum":2.357},"y2":{"datum":1.664}}},
{"data":{"values":[{}]},"mark":{"type":"rect","fill":"transparent","stroke":"#000000","strokeWidth":2},
 "encoding":{"x":{"datum":0.6287},"x2":{"datum":0.9607},"y":{"datum":2.12},"y2":{"datum":1.75}}},
{"data":{"values":[{}]},"mark":{"type":"rule","stroke":"#000000","strokeWidth":2},
 "encoding":{"x":{"datum":0.6287},"x2":{"datum":0.9607},"y":{"datum":1.929}}},
{"data":{"values":[{}]},"mark":{"type":"rule","stroke":"#000000","strokeWidth":2},
 "encoding":{"x":{"datum":0.8722},"y":{"datum":2.12},"y2":{"datum":1.75}}},
{"data":{"values":[{}]},"mark":{"type":"text","text":"Table 2. Measurement uncertainties","font":"Liberation Serif","fontSize":27,"fontStyle":"italic","fontWeight":"bold","align":"left","baseline":"alphabetic","color":"#000000"},
 "encoding":{"x":{"datum":0.6355},"y":{"datum":2.153}}},
{"data":{"values":[{}]},"mark":{"type":"text","text":"Volumetric efficiency","font":"Liberation Serif","fontSize":27,"fontStyle":"italic","fontWeight":"bold","align":"left","baseline":"alphabetic","color":"#000000"},
 "encoding":{"x":{"datum":0.6355},"y":{"datum":1.97}}},
{"data":{"values":[{}]},"mark":{"type":"text","text":"4.0%","font":"Liberation Serif","fontSize":27,"fontStyle":"italic","fontWeight":"bold","align":"left","baseline":"alphabetic","color":"#000000"},
 "encoding":{"x":{"datum":0.879},"y":{"datum":1.97}}},
{"data":{"values":[{}]},"mark":{"type":"text","text":"IMEP (standard deviation)","font":"Liberation Serif","fontSize":27,"fontStyle":"italic","fontWeight":"bold","align":"left","baseline":"alphabetic","color":"#000000"},
 "encoding":{"x":{"datum":0.6355},"y":{"datum":1.783}}},
{"data":{"values":[{}]},"mark":{"type":"text","text":"1.0%","font":"Liberation Serif","fontSize":27,"fontStyle":"italic","fontWeight":"bold","align":"left","baseline":"alphabetic","color":"#000000"},
 "encoding":{"x":{"datum":0.879},"y":{"datum":1.783}}}
]
}
